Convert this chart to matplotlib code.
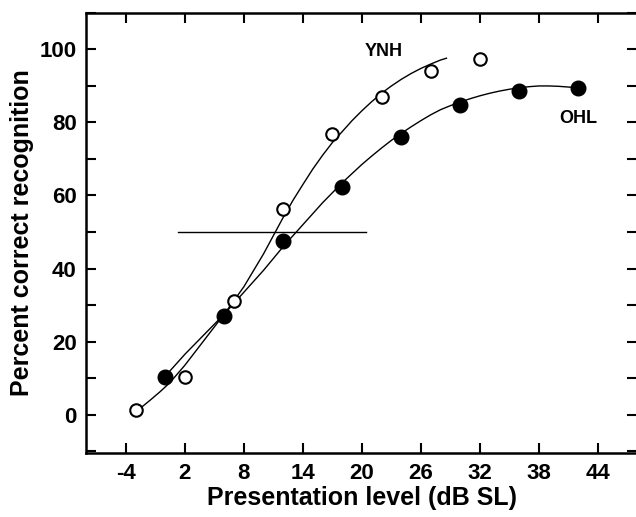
import matplotlib
matplotlib.use("Agg")
import matplotlib.pyplot as plt
from matplotlib.ticker import MultipleLocator

plt.rcParams['font.family'] = ['Liberation Sans', 'DejaVu Sans']
plt.rcParams['axes.unicode_minus'] = False

# measured points
ynh_x = [-3, 2, 7, 12, 17, 22, 27, 32]
ynh_y = [1.2, 10.3, 31.2, 56.2, 76.9, 86.9, 94.1, 97.4]
ohl_x = [0, 6, 12, 18, 24, 30, 36, 42]
ohl_y = [10.3, 26.9, 47.4, 62.2, 76.0, 84.8, 88.6, 89.5]

# fitted curves
ynh_fit_x = [-2.5, -1.5, -0.5, 0.5, 2, 4, 6, 8, 10, 11, 12, 13, 14, 15, 16, 17,
             18, 19, 20, 21, 22, 23, 24, 25, 26, 27, 28, 28.6]
ynh_fit_y = [1.8, 4.0, 6.3, 8.8, 13.5, 20.5, 27.5, 35, 44, 49, 54, 58.7, 63, 67.2, 71, 74.5,
             77.5, 80.5, 83.2, 85.7, 88, 90, 91.8, 93.4, 94.8, 96, 97.1, 97.6]
ohl_fit_x = [0, 2, 4, 6, 8, 10, 12, 14, 16, 18, 20, 21, 22, 23, 24, 25, 26, 27, 28,
             29, 30, 31, 32, 33, 34, 35, 36, 37, 38, 39, 40, 41, 42]
ohl_fit_y = [10.5, 16.5, 22, 27.5, 33.5, 39.5, 46, 52, 58, 63.5, 68.5, 70.8, 73, 75.1, 77,
             78.8, 80.5, 82.1, 83.5, 84.6, 85.6, 86.5, 87.3, 88, 88.6, 89.1, 89.5, 89.8,
             90, 90, 89.9, 89.7, 89.5]

# 50% reference line
ref_x = [1.3, 20.4]
ref_y = [50, 50]

fig = plt.figure(figsize=(6.36, 5.17), dpi=100)
ax = fig.add_axes([0.136, 0.124, 0.866, 0.851])

ax.plot(ynh_fit_x, ynh_fit_y, color='black', lw=1.0)
ax.plot(ohl_fit_x, ohl_fit_y, color='black', lw=1.0)
ax.plot(ref_x, ref_y, color='black', lw=1.0)
ax.plot(ynh_x, ynh_y, 'o', ms=9, mfc='white', mec='black', mew=1.5, zorder=3)
ax.plot(ohl_x, ohl_y, 'o', ms=10.5, mfc='black', mec='black', zorder=3)

ax.text(22.2, 99.5, "YNH", fontsize=13, fontweight='bold', ha='center', va='center')
ax.text(42, 81.2, "OHL", fontsize=13, fontweight='bold', ha='center', va='center')

ax.set_xlim(-8, 48)
ax.set_ylim(-10.5, 110)
ax.set_xticks([-4, 2, 8, 14, 20, 26, 32, 38, 44])
ax.set_yticks([0, 20, 40, 60, 80, 100])
ax.yaxis.set_minor_locator(MultipleLocator(10))
ax.tick_params(which='both', direction='in', length=7, width=1.5,
               top=True, right=True, labelsize=16, pad=7)
for lab in ax.get_xticklabels() + ax.get_yticklabels():
    lab.set_fontweight('bold')
for s in ax.spines.values():
    s.set_linewidth(1.8)

ax.set_xlabel("Presentation level (dB SL)", fontsize=18, fontweight='bold', labelpad=2)
ax.set_ylabel("Percent correct recognition", fontsize=18, fontweight='bold', labelpad=4)

fig.savefig("out.png", dpi=100)
